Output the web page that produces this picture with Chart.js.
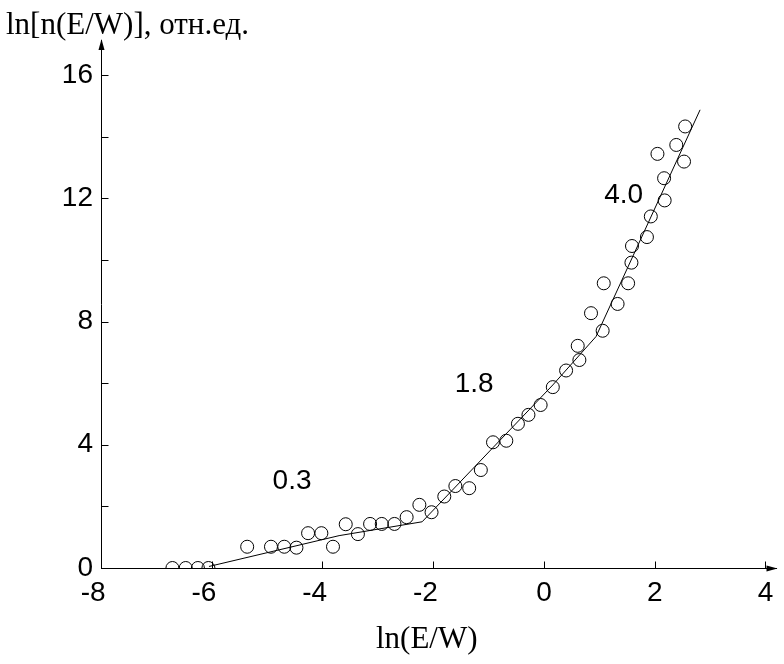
<!DOCTYPE html>
<html><head><meta charset="utf-8">
<script src="https://cdn.jsdelivr.net/npm/chart.js@4.4.1/dist/chart.umd.min.js"></script>
<style>html,body{margin:0;padding:0;background:#fff}#wrap{width:784px;height:664px}</style>
</head><body><div id="wrap"><canvas id="c" width="784" height="664"></canvas></div>
<script>
// ---- data ----
const xTickValues = [-8, -6, -4, -2, 0, 2, 4];
const yTickValues = [0, 4, 8, 12, 16];
const yMinorTickValues = [0, 2, 4, 6, 8, 10, 12, 14, 16];

const obsX = [-6.71, -6.47, -6.25, -6.06, -5.36, -4.93, -4.69, -4.47, -4.26, -4.02, -3.81, -3.58, -3.36, -3.14, -2.93, -2.70, -2.48, -2.25, -2.03, -1.80, -1.60, -1.35, -1.14, -0.92, -0.68, -0.47, -0.28, -0.06, 0.16, 0.40, 0.61, 0.64, 0.85, 1.06, 1.08, 1.33, 1.52, 1.58, 1.59, 1.86, 1.93, 2.05, 2.17, 2.18, 2.39, 2.53, 2.55];
const obsY = [0.0, 0.0, 0.0, 0.0, 0.69, 0.69, 0.69, 0.66, 1.13, 1.13, 0.69, 1.42, 1.10, 1.43, 1.43, 1.43, 1.65, 2.05, 1.81, 2.32, 2.66, 2.59, 3.18, 4.08, 4.13, 4.68, 4.97, 5.29, 5.87, 6.41, 7.21, 6.75, 8.27, 7.70, 9.24, 8.57, 9.24, 9.91, 10.45, 10.74, 11.41, 13.44, 12.65, 11.93, 13.73, 13.19, 14.33];

const fitX = [-6.05, -3.70, -2.20, 0.16, 0.94, 2.82];
const fitY = [0.05, 1.05, 1.50, 5.94, 7.51, 14.87];

const slopeTexts = ['0.3', '1.8', '4.0'];
const xTitle = 'ln(E/W)';
const yTitle = 'ln[n(E/W)], отн.ед.';

// ---- layout / annotation anchors (data coordinates) ----
const slopeAnchors = [{x: -4.55, y: 2.82}, {x: -1.26, y: 5.97}, {x: 1.44, y: 12.11}];

const SANS = '"Liberation Sans", Arial, sans-serif';
const SERIF = '"Liberation Serif", "Times New Roman", serif';

const decor = {
  id: 'decor',
  afterDraw(chart) {
    const ctx = chart.ctx, xs = chart.scales.x, ys = chart.scales.y, a = chart.chartArea;
    ctx.save();
    ctx.strokeStyle = '#000'; ctx.fillStyle = '#000'; ctx.lineWidth = 1;
    const L = Math.round(a.left) + 0.5, B = Math.round(a.bottom) + 0.5;
    // inward ticks
    ctx.beginPath();
    xTickValues.forEach(v => { const px = Math.round(xs.getPixelForValue(v)) + 0.5; ctx.moveTo(px, B); ctx.lineTo(px, B - 7); });
    yMinorTickValues.forEach(v => { const py = Math.round(ys.getPixelForValue(v)) + 0.5; ctx.moveTo(L, py); ctx.lineTo(L + 7, py); });
    ctx.stroke();
    // arrow heads
    const T = a.top, R = a.right;
    ctx.beginPath(); ctx.moveTo(L, T - 1); ctx.lineTo(L - 3, T + 10); ctx.lineTo(L + 3, T + 10); ctx.closePath(); ctx.fill();
    ctx.beginPath(); ctx.moveTo(R + 1, B); ctx.lineTo(R - 10, B - 3); ctx.lineTo(R - 10, B + 3); ctx.closePath(); ctx.fill();
    // titles
    ctx.font = '31px ' + SERIF; ctx.textAlign = 'left'; ctx.textBaseline = 'alphabetic';
    ctx.fillText(yTitle, 6, 34);
    ctx.fillText(xTitle, 376, 648);
    // slope annotations
    ctx.font = '28px ' + SANS; ctx.textAlign = 'center'; ctx.textBaseline = 'middle';
    slopeTexts.forEach((t, i) => ctx.fillText(t, xs.getPixelForValue(slopeAnchors[i].x), ys.getPixelForValue(slopeAnchors[i].y)));
    ctx.restore();
  }
};

new Chart(document.getElementById('c'), {
  type: 'scatter',
  data: {
    datasets: [
      { data: fitX.map((x, i) => ({x, y: fitY[i]})), showLine: true, borderColor: '#000', borderWidth: 1, pointRadius: 0, fill: false, tension: 0 },
      { data: obsX.map((x, i) => ({x, y: obsY[i]})), pointStyle: 'circle', pointRadius: 6.5, borderColor: '#000', borderWidth: 1, backgroundColor: 'rgba(0,0,0,0)', clip: 0 }
    ]
  },
  options: {
    responsive: false, animation: false,
    layout: { padding: { top: 40, right: 5, left: 0, bottom: 0 } },
    plugins: { legend: { display: false }, tooltip: { enabled: false } },
    scales: {
      x: {
        type: 'linear', min: -8, max: 4.2,
        afterBuildTicks: s => { s.ticks = xTickValues.map(v => ({value: v})); },
        afterFit: s => { s.height = 96; },
        grid: { display: false, drawTicks: false },
        border: { display: true, color: '#000', width: 1 },
        ticks: { color: '#000', font: { family: SANS, size: 28 }, padding: 8, maxRotation: 0, autoSkip: false,
          callback: v => v < 0 ? v + '  ' : String(v) }
      },
      y: {
        type: 'linear', min: 0, max: 17.136,
        afterBuildTicks: s => { s.ticks = yTickValues.map(v => ({value: v})); },
        afterFit: s => { s.width = 101; },
        grid: { display: false, drawTicks: false },
        border: { display: true, color: '#000', width: 1 },
        ticks: { color: '#000', font: { family: SANS, size: 28 }, padding: 8, autoSkip: false, callback: v => String(v) }
      }
    }
  },
  plugins: [decor]
});
</script></body></html>
